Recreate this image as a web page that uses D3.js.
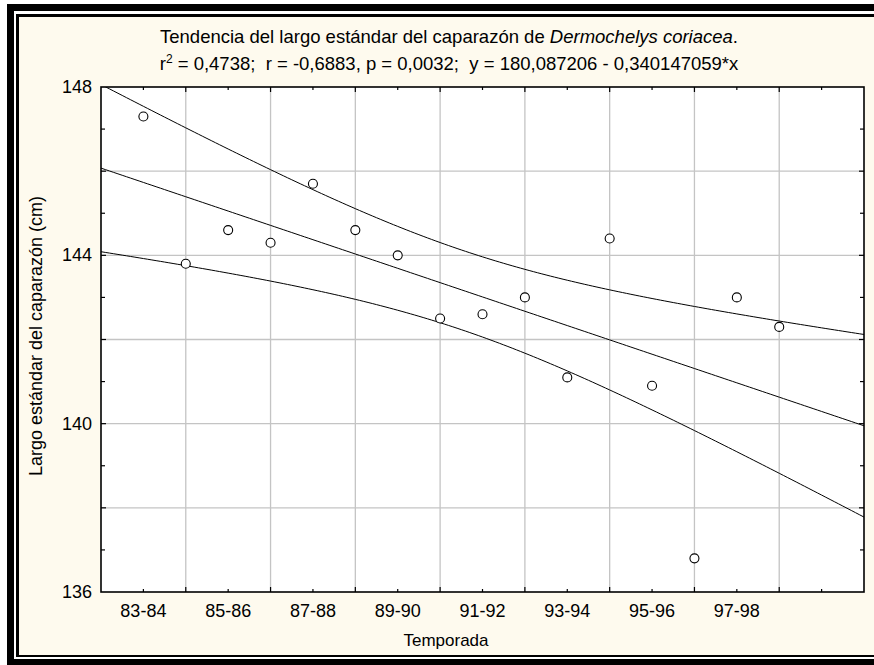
<!DOCTYPE html>
<html>
<head>
<meta charset="utf-8">
<script src="https://cdn.jsdelivr.net/npm/d3@7"></script>
<style>
  html, body { margin: 0; padding: 0; background: #ffffff; }
  svg { display: block; }
  text { font-family: "Liberation Sans", Arial, sans-serif; fill: #000; }
</style>
</head>
<body>
<svg id="chart" width="874" height="665"></svg>
<script>
// ---- data ----
const seasons = ["83-84","84-85","85-86","86-87","87-88","88-89","89-90","90-91",
                 "91-92","92-93","93-94","94-95","95-96","96-97","97-98","98-99"];
const seasonX = [101,102,103,104,105,106,107,108,109,110,111,112,113,114,115,116];
const lengths = [147.3,143.8,144.6,144.3,145.7,144.6,144.0,142.5,
                 142.6,143.0,141.1,144.4,140.9,136.8,143.0,142.3];
const xTickLabels = ["83-84","85-86","87-88","89-90","91-92","93-94","95-96","97-98"];
const yTickLabels = [136,140,144,148];
const intercept = 180.087206;
const slope = -0.340147059;
const tCrit = 2.144787; // t(0.975, 14)

const W = 874, H = 665;
const svg = d3.select("#chart");

// background & frame
svg.append("rect").attr("x",0).attr("y",0).attr("width",W).attr("height",H).attr("fill","#ffffff");
svg.append("rect").attr("x",7).attr("y",4).attr("width",W+20).attr("height",H+20).attr("fill","#000");
svg.append("rect").attr("x",14).attr("y",11).attr("width",W+20).attr("height",648).attr("fill","#ffffff");
svg.append("rect").attr("x",16).attr("y",14).attr("width",W+20).attr("height",643).attr("fill","#000");
svg.append("rect").attr("x",19).attr("y",17).attr("width",W+20).attr("height",638).attr("fill","#fefaee");

const L = 101, R = 864, T = 87, B = 592;
const x = d3.scaleLinear().domain([100,118]).range([L,R]);
const y = d3.scaleLinear().domain([136,148]).range([B,T]);

svg.append("rect").attr("x",L).attr("y",T).attr("width",R-L).attr("height",B-T).attr("fill","#ffffff");

const g = svg.append("g");

// gridlines
const xGrid = d3.range(102,118,2);
const yGrid = d3.range(138,148,2);
g.selectAll(".vg").data(xGrid).join("line")
  .attr("x1",d=>x(d)).attr("x2",d=>x(d)).attr("y1",T).attr("y2",B)
  .attr("stroke","#c4c4c4").attr("stroke-width",1.3);
g.selectAll(".hg").data(yGrid).join("line")
  .attr("y1",d=>y(d)).attr("y2",d=>y(d)).attr("x1",L).attr("x2",R)
  .attr("stroke","#c4c4c4").attr("stroke-width",1.3);

// regression + confidence bands
const n = lengths.length;
const mx = d3.mean(seasonX);
const sxx = d3.sum(seasonX, v => (v-mx)*(v-mx));
const sse = d3.sum(seasonX, (v,i) => { const r = lengths[i] - (intercept + slope*v); return r*r; });
const s = Math.sqrt(sse/(n-2));
const xs = d3.range(0, 181).map(i => 100 + i*0.1);
const fit = v => intercept + slope*v;
const hw = v => tCrit * s * Math.sqrt(1/n + (v-mx)*(v-mx)/sxx);
const line = d3.line().x(d=>x(d[0])).y(d=>y(d[1]));
const clip = svg.append("clipPath").attr("id","pc").append("rect")
  .attr("x",L).attr("y",T).attr("width",R-L).attr("height",B-T);
const lg = g.append("g").attr("clip-path","url(#pc)");
[xs.map(v=>[v,fit(v)]), xs.map(v=>[v,fit(v)+hw(v)]), xs.map(v=>[v,fit(v)-hw(v)])].forEach(pts=>{
  lg.append("path").attr("d",line(pts)).attr("fill","none").attr("stroke","#000").attr("stroke-width",1);
});

// frame of plot
g.append("rect").attr("x",L).attr("y",T).attr("width",R-L).attr("height",B-T)
  .attr("fill","none").attr("stroke","#000").attr("stroke-width",1.6);

// ticks (inward, all four sides)
const xMaj = d3.range(102,118,2), xMin = d3.range(101,118,2);
const yMaj = d3.range(138,148,2), yMin = d3.range(137,148,2);
function vt(vals, len){
  vals.forEach(v=>{
    g.append("line").attr("x1",x(v)).attr("x2",x(v)).attr("y1",B).attr("y2",B-len).attr("stroke","#000").attr("stroke-width",1.2);
    g.append("line").attr("x1",x(v)).attr("x2",x(v)).attr("y1",T).attr("y2",T+len).attr("stroke","#000").attr("stroke-width",1.2);
  });
}
function ht(vals, len){
  vals.forEach(v=>{
    g.append("line").attr("y1",y(v)).attr("y2",y(v)).attr("x1",L).attr("x2",L+len).attr("stroke","#000").attr("stroke-width",1.2);
    g.append("line").attr("y1",y(v)).attr("y2",y(v)).attr("x1",R).attr("x2",R-len).attr("stroke","#000").attr("stroke-width",1.2);
  });
}
vt(xMaj,5); vt(xMin,3); ht(yMaj,5); ht(yMin,4);

// points
g.selectAll(".pt").data(lengths).join("circle")
  .attr("cx",(d,i)=>x(seasonX[i])).attr("cy",d=>y(d)).attr("r",4.5)
  .attr("fill","#fff").attr("stroke","#000").attr("stroke-width",1.1);

// tick labels
g.selectAll(".xl").data(xTickLabels).join("text")
  .attr("x",(d,i)=>x(seasonX[i*2])).attr("y",617)
  .attr("text-anchor","middle").attr("font-size",18).text(d=>d);
g.selectAll(".yl").data(yTickLabels).join("text")
  .attr("x",92).attr("y",d=>y(d)+6)
  .attr("text-anchor","end").attr("font-size",18).text(d=>d);

// axis titles
svg.append("text").attr("x",446).attr("y",646).attr("text-anchor","middle")
  .attr("font-size",17).text("Temporada");
svg.append("text").attr("transform","translate(42,336) rotate(-90)").attr("text-anchor","middle")
  .attr("font-size",18).text("Largo estándar del caparazón (cm)");

// title
const t1 = svg.append("text").attr("x",449).attr("y",43).attr("text-anchor","middle").attr("font-size",18.5);
t1.append("tspan").text("Tendencia del largo estándar del caparazón de ");
t1.append("tspan").attr("font-style","italic").text("Dermochelys coriacea");
t1.append("tspan").text(".");
const t2 = svg.append("text").attr("x",449).attr("y",70).attr("text-anchor","middle").attr("font-size",18.5)
  .attr("xml:space","preserve");
t2.append("tspan").text("r");
t2.append("tspan").attr("dy",-7).attr("font-size",12).text("2");
t2.append("tspan").attr("dy",7).text(" = 0,4738;  r = -0,6883, p = 0,0032;  y = 180,087206 - 0,340147059*x");
</script>
</body>
</html>
